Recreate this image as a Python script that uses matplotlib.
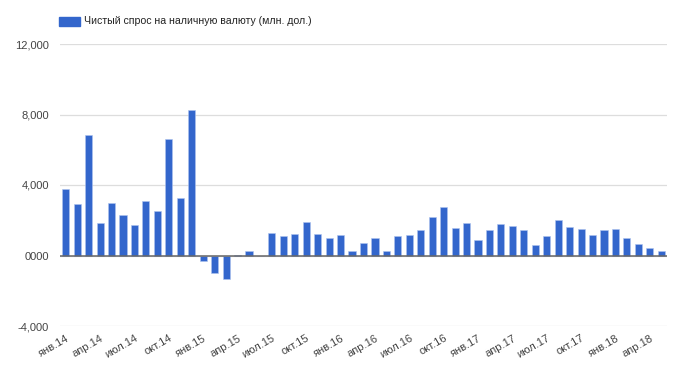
import numpy as np
import matplotlib; matplotlib.use("Agg")
import matplotlib.pyplot as plt
from matplotlib.patches import Rectangle

plt.rcParams.update({"font.family": ["Liberation Sans", "DejaVu Sans"], "font.size": 8})

# месяцы янв.2014 - май.2018
mes = ["янв", "фев", "мар", "апр", "май", "июн", "июл", "авг", "сен", "окт", "ноя", "дек"]
meses = [f"{mes[i % 12]}.{14 + i // 12}" for i in range(53)]
spros = [3770, 2920, 6820, 1840, 2960, 2270, 1730, 3110, 2540, 6620, 3260, 8250,
         -300, -1000, -1330, 50, 280, 0, 1250, 1080, 1210, 1880, 1210, 970,
         1170, 280, 700, 1000, 280, 1110, 1150, 1430, 2210, 2740, 1570, 1850,
         890, 1430, 1810, 1700, 1430, 580, 1080, 2020, 1620, 1490, 1150, 1430,
         1530, 1000, 660, 400, 250]
yticks = [-4000, 0, 4000, 8000, 12000]
ylabels = ["-4,000", "0000", "4,000", "8,000", "12,000"]

fig = plt.figure(figsize=(6.77, 3.72), dpi=100)
ax = fig.add_axes([60/677, 1-326/372, 607/677, 282/372])
x = np.arange(len(spros))
ax.bar(x, spros, width=0.62, color="#3366cc", edgecolor="#aec3ee", linewidth=0.4, zorder=3)
ax.set_xlim(-0.5, len(spros)-0.5)
ax.set_ylim(-4000, 12000)
ax.set_yticks(yticks)
ax.set_yticklabels(ylabels)
ax.grid(axis="y", color="#dddddd", lw=0.9, zorder=0)
ax.axhline(0, color="#666666", lw=1.1, zorder=4)
for s in ax.spines.values(): s.set_visible(False)
ax.set_xticks(x[::3])
ax.set_xticklabels(meses[::3], rotation=30, ha="right", rotation_mode="anchor")
ax.tick_params(length=0, colors="#444444", labelsize=8)
ax.tick_params(axis="y", pad=8)
ax.tick_params(axis="x", pad=5)

# легенда
fig.patches.append(Rectangle((59/677, 1-26/372), 21/677, 9/372, transform=fig.transFigure,
                             color="#3366cc"))
fig.text(84/677, 1-21.5/372, "Чистый спрос на наличную валюту (млн. дол.)", va="center",
         fontsize=7.6, color="#222222")

fig.savefig("out.png", dpi=100)
